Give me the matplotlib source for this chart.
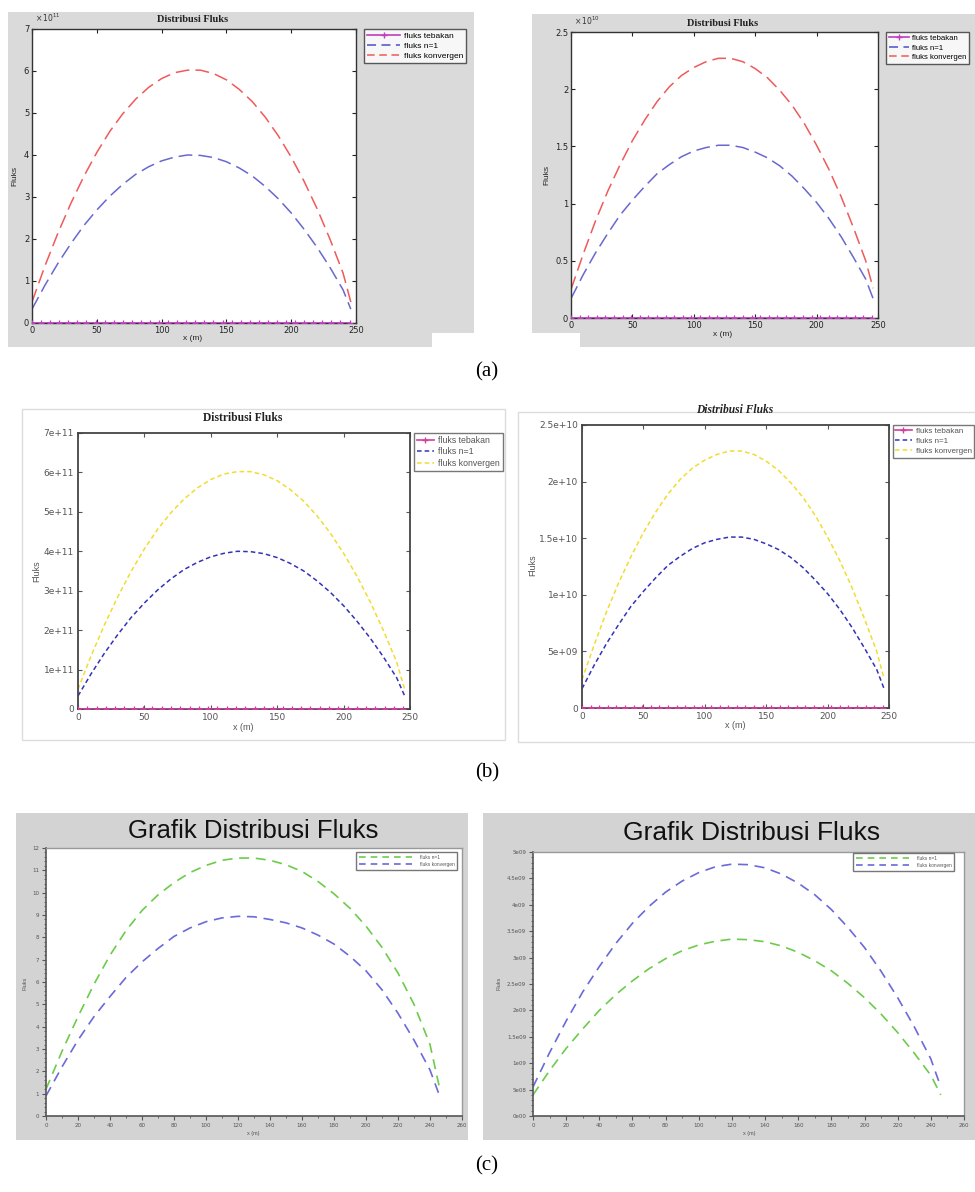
import matplotlib
matplotlib.use('Agg')
import matplotlib.pyplot as plt
from matplotlib.patches import Rectangle
from matplotlib.lines import Line2D
from matplotlib.ticker import MultipleLocator

# ---------------- data ----------------
X = [0, 10, 20, 30, 40, 50, 60, 70, 80, 90, 100, 110, 120, 130, 140, 150,
     160, 170, 180, 190, 200, 210, 220, 230, 240, 246]
X_TEB = [0, 7, 14, 21, 28, 35, 42, 49, 56, 63, 70, 77, 84, 91, 98, 105, 112,
         119, 126, 133, 140, 147, 154, 161, 168, 175, 182, 189, 196, 203, 210,
         217, 224, 231, 238, 245]
TEB = [0.0, 0.0, 0.0, 0.0, 0.0, 0.0, 0.0, 0.0, 0.0, 0.0, 0.0, 0.0, 0.0, 0.0,
       0.0, 0.0, 0.0, 0.0, 0.0, 0.0, 0.0, 0.0, 0.0, 0.0, 0.0, 0.0, 0.0, 0.0,
       0.0, 0.0, 0.0, 0.0, 0.0, 0.0, 0.0, 0.0]

# case 1 (x 1e11)
C1_N1 = [0.33, 0.90, 1.42, 1.89, 2.32, 2.69, 3.02, 3.30, 3.54, 3.72, 3.86, 3.95,
         4.00, 3.99, 3.94, 3.84, 3.69, 3.50, 3.25, 2.96, 2.62, 2.23, 1.80, 1.32,
         0.79, 0.33]
C1_KON = [0.50, 1.36, 2.14, 2.85, 3.49, 4.06, 4.56, 4.98, 5.33, 5.61, 5.82, 5.96,
          6.02, 6.02, 5.94, 5.79, 5.56, 5.27, 4.90, 4.46, 3.95, 3.37, 2.72, 1.99,
          1.19, 0.50]
# case 2 (x 1e10)
C2_N1 = [0.17, 0.38, 0.57, 0.74, 0.90, 1.03, 1.15, 1.26, 1.34, 1.41, 1.46, 1.49,
         1.51, 1.51, 1.49, 1.45, 1.40, 1.33, 1.24, 1.13, 1.01, 0.87, 0.71, 0.53,
         0.34, 0.17]
C2_KON = [0.25, 0.56, 0.85, 1.11, 1.34, 1.55, 1.73, 1.89, 2.02, 2.12, 2.19, 2.24,
          2.27, 2.27, 2.24, 2.18, 2.10, 1.99, 1.86, 1.70, 1.51, 1.30, 1.06, 0.79,
          0.50, 0.26]
# panel (c)
C3_N1 = [1.20, 2.90, 4.45, 5.90, 7.20, 8.30, 9.20, 9.90, 10.45, 10.90, 11.22,
         11.45, 11.55, 11.55, 11.45, 11.25, 10.95, 10.50, 9.95, 9.30, 8.50,
         7.55, 6.40, 5.00, 3.20, 1.25]
C3_KON = [0.90, 2.20, 3.40, 4.45, 5.35, 6.20, 6.90, 7.50, 8.04, 8.42, 8.70, 8.87,
          8.94, 8.92, 8.80, 8.65, 8.42, 8.10, 7.70, 7.15, 6.50, 5.65, 4.60, 3.40,
          2.06, 0.90]
C4_N1 = [0.40, 0.86, 1.28, 1.65, 2.00, 2.30, 2.56, 2.79, 2.98, 3.13, 3.24, 3.31,
         3.35, 3.34, 3.30, 3.22, 3.10, 2.94, 2.75, 2.51, 2.24, 1.93, 1.58, 1.19,
         0.77, 0.40]
C4_KON = [0.55, 1.20, 1.80, 2.35, 2.83, 3.27, 3.65, 3.97, 4.24, 4.45, 4.61, 4.72,
          4.77, 4.76, 4.70, 4.58, 4.41, 4.19, 3.91, 3.57, 3.19, 2.74, 2.24, 1.69,
          1.08, 0.55]

YT_A1 = [0, 1, 2, 3, 4, 5, 6, 7]
YT_A2 = [0, 0.5, 1, 1.5, 2, 2.5]
YL_A2 = ['0', '0.5', '1', '1.5', '2', '2.5']
YL_B1 = ['0', '1e+11', '2e+11', '3e+11', '4e+11', '5e+11', '6e+11', '7e+11']
YL_B2 = ['0', '5e+09', '1e+10', '1.5e+10', '2e+10', '2.5e+10']
XT_AB = [0, 50, 100, 150, 200, 250]
YT_C1 = [0, 1, 2, 3, 4, 5, 6, 7, 8, 9, 10, 11, 12]
YT_C2 = [0, 0.5, 1, 1.5, 2, 2.5, 3, 3.5, 4, 4.5, 5]
YL_C2 = ['0e00', '5e08', '1e09', '1.5e09', '2e09', '2.5e09', '3e09', '3.5e09',
         '4e09', '4.5e09', '5e09']
XT_C = [0, 20, 40, 60, 80, 100, 120, 140, 160, 180, 200, 220, 240, 260]

LEG_AB = ['fluks tebakan', 'fluks n=1', 'fluks konvergen']
LEG_C = ['fluks n=1', 'fluks konvergen']

# ---------------- figure ----------------
W, H = 975, 1192
fig = plt.figure(figsize=(W / 100, H / 100), dpi=100)
fig.patch.set_facecolor('white')


def rect(l, t, r, b):
    return [l / W, 1 - b / H, (r - l) / W, (b - t) / H]


def bg(l, t, r, b, fc, ec='none', lw=0.0):
    fig.patches.append(Rectangle((l / W, 1 - b / H), (r - l) / W, (b - t) / H,
                                 transform=fig.transFigure, facecolor=fc,
                                 edgecolor=ec, linewidth=lw, zorder=-10))


def ftext(px, py, s, **kw):
    fig.text(px / W, 1 - py / H, s, **kw)


GRAY_A = '#dadada'
GRAY_C = '#d3d3d3'
SANS = 'Liberation Sans'
SERIF = 'Liberation Serif'

# backgrounds
bg(8, 12, 474, 333, GRAY_A)
bg(8, 333, 432, 347, GRAY_A)
bg(532, 14, 975, 333, GRAY_A)
bg(580, 333, 975, 347, GRAY_A)
bg(22, 409, 505, 740, 'white', ec='#dcdcdc', lw=1.0)
bg(518, 412, 985, 742, 'white', ec='#dcdcdc', lw=1.0)
bg(16, 813, 468, 1140, GRAY_C)
bg(483, 813, 975, 1140, GRAY_C)


# ---------------- panel (a) : MATLAB style ----------------
def matlab_axes(r, ylim, yt, ylabels, mult, n1, kon, title, title_xy,
                xlab_xy, ylab_xy, leg_xy, hlen, lsize):
    ax = fig.add_axes(rect(*r))
    ax.plot(X_TEB, TEB, color='#c03cc0', lw=1.2, marker='+', ms=4.5, mew=0.9,
            zorder=5)
    ax.plot(X, n1, color='#6868d0', lw=1.1, dashes=(9, 4))
    ax.plot(X, kon, color='#f05a5a', lw=1.1, dashes=(9, 4))
    ax.set_xlim(0, 250)
    ax.set_ylim(*ylim)
    ax.set_xticks(XT_AB)
    ax.set_yticks(yt)
    if ylabels is not None:
        ax.set_yticklabels(ylabels)
    ax.tick_params(direction='in', length=3, width=0.8, top=True, right=True,
                   labelsize=6, pad=2, colors='#222222')
    for s in ax.spines.values():
        s.set_color('#333333')
        s.set_linewidth(1.0)
    ftext(r[0] + 3, r[1] - 5, mult, fontsize=5.5, family=SANS, color='#333333',
          ha='left', va='bottom')
    ftext(*title_xy, title, fontsize=7.5, family=SERIF, weight='bold',
          ha='center', va='center', color='#222222')
    ftext(*xlab_xy, 'x (m)', fontsize=6, family=SANS, ha='center', va='center',
          color='#222222')
    ftext(*ylab_xy, 'Fluks', fontsize=6, family=SANS, ha='center', va='center',
          rotation=90, color='#222222')
    handles = [Line2D([], [], color='#c03cc0', lw=1.2, marker='+', ms=4.5),
               Line2D([], [], color='#6868d0', lw=1.3, dashes=(5, 3)),
               Line2D([], [], color='#f05a5a', lw=1.1, dashes=(5, 3))]
    leg = ax.legend(handles, LEG_AB, loc='upper left',
                    bbox_to_anchor=(leg_xy[0] / W, 1 - leg_xy[1] / H),
                    bbox_transform=fig.transFigure, borderaxespad=0,
                    frameon=True, fancybox=False, handlelength=hlen,
                    handletextpad=0.4, labelspacing=0.25, borderpad=0.35,
                    prop={'family': SANS, 'size': lsize})
    leg.get_frame().set_edgecolor('#333333')
    leg.get_frame().set_linewidth(1.0)
    return ax


matlab_axes((32, 29, 356, 323), (0, 7), YT_A1, None, r'$\times\,10^{11}$',
            C1_N1, C1_KON, 'Distribusi Fluks', (193, 20), (193, 339), (15, 176),
            (364, 29), 4.0, 6)
matlab_axes((571, 32, 878, 318), (0, 2.5), YT_A2, YL_A2, r'$\times\,10^{10}$',
            C2_N1, C2_KON, 'Distribusi Fluks', (723, 23), (723, 334), (547, 175),
            (886, 32), 2.6, 5.6)


# ---------------- panel (b) : Scilab style ----------------
def scilab_axes(r, ylim, yt, ylabels, n1, kon, title, title_xy, italic,
                xlab_xy, ylab_xy, leg_xy, legsize):
    ax = fig.add_axes(rect(*r))
    ax.plot(X_TEB, TEB, color='#d43c9c', lw=1.2, marker='+', ms=4.5, mew=0.9,
            zorder=5)
    ax.plot(X, n1, color='#3333b8', lw=1.1, dashes=(3, 2))
    ax.plot(X, kon, color='#f2dc30', lw=1.1, dashes=(3, 2))
    ax.set_xlim(0, 250)
    ax.set_ylim(*ylim)
    ax.set_xticks(XT_AB)
    ax.set_yticks(yt)
    ax.set_yticklabels(ylabels)
    ax.tick_params(direction='in', length=3, width=0.8, top=True, right=True,
                   labelsize=6.5, pad=3, colors='#555555')
    for s in ax.spines.values():
        s.set_color('#444444')
        s.set_linewidth(1.3)
    ftext(*title_xy, title, fontsize=8.3, family=SERIF, weight='bold',
          style='italic' if italic else 'normal', ha='center', va='center',
          color='#222222')
    ftext(*xlab_xy, 'x (m)', fontsize=6.5, family=SANS, ha='center',
          va='center', color='#555555')
    ftext(*ylab_xy, 'Fluks', fontsize=6.5, family=SANS, ha='center',
          va='center', rotation=90, color='#555555')
    handles = [Line2D([], [], color='#d43c9c', lw=1.2, marker='+', ms=5),
               Line2D([], [], color='#3333b8', lw=1.1, dashes=(3, 2)),
               Line2D([], [], color='#f2dc30', lw=1.1, dashes=(3, 2))]
    leg = ax.legend(handles, LEG_AB, loc='upper left',
                    bbox_to_anchor=(leg_xy[0] / W, 1 - leg_xy[1] / H),
                    bbox_transform=fig.transFigure, borderaxespad=0,
                    frameon=True, fancybox=False, handlelength=2.0,
                    handletextpad=0.5, labelspacing=0.3, borderpad=0.3,
                    prop={'family': SANS, 'size': legsize})
    leg.get_frame().set_edgecolor('#555555')
    leg.get_frame().set_linewidth(1.0)
    for t in leg.get_texts():
        t.set_color('#555555')
    return ax


scilab_axes((78, 433, 410, 709), (0, 7), YT_A1, YL_B1, C1_N1, C1_KON,
            'Distribusi Fluks', (243, 418), False, (243, 727), (37, 571),
            (414, 433), 6.3)
scilab_axes((582, 425, 889, 708), (0, 2.5), YT_A2, YL_B2, C2_N1, C2_KON,
            'Distribusi Fluks', (735, 410), True, (735, 726), (533, 565),
            (893, 425), 5.8)


# ---------------- panel (c) ----------------
def grafik_axes(r, ylim, yt, ylabels, n1, kon, title_xy, tsize, xlab_xy,
                ylab_xy, leg_xy, ymin_step):
    ax = fig.add_axes(rect(*r))
    ax.plot(X, n1, color='#6ccc4a', lw=1.2, dashes=(6, 4))
    ax.plot(X, kon, color='#6a6ad8', lw=1.2, dashes=(6, 4))
    ax.set_xlim(0, 260)
    ax.set_ylim(*ylim)
    ax.set_xticks(XT_C)
    ax.set_yticks(yt)
    if ylabels is not None:
        ax.set_yticklabels(ylabels)
    ax.xaxis.set_minor_locator(MultipleLocator(10))
    ax.yaxis.set_minor_locator(MultipleLocator(ymin_step))
    ax.tick_params(which='major', direction='out', length=3, width=0.8,
                   labelsize=4, pad=2, colors='#555555')
    ax.tick_params(which='minor', direction='out', length=1.5, width=0.6,
                   colors='#555555')
    for k in ('left', 'bottom'):
        ax.spines[k].set_color('#555555')
        ax.spines[k].set_linewidth(1.2)
    for k in ('top', 'right'):
        ax.spines[k].set_color('#999999')
        ax.spines[k].set_linewidth(1.0)
    ftext(*title_xy, 'Grafik Distribusi Fluks', fontsize=tsize, family=SANS,
          ha='center', va='center', color='#111111')
    ftext(*xlab_xy, 'x (m)', fontsize=4, family=SANS, ha='center',
          va='center', color='#555555')
    ftext(*ylab_xy, 'Fluks', fontsize=4, family=SANS, ha='center',
          va='center', rotation=90, color='#555555')
    handles = [Line2D([], [], color='#6ccc4a', lw=1.2, dashes=(4, 3)),
               Line2D([], [], color='#6a6ad8', lw=1.2, dashes=(4, 3))]
    leg = ax.legend(handles, LEG_C, loc='upper left',
                    bbox_to_anchor=(leg_xy[0] / W, 1 - leg_xy[1] / H),
                    bbox_transform=fig.transFigure, borderaxespad=0,
                    frameon=True, fancybox=False, handlelength=11,
                    handletextpad=1.5, labelspacing=0.4, borderpad=0.6,
                    prop={'family': SANS, 'size': 3.5})
    leg.get_frame().set_edgecolor('#555555')
    leg.get_frame().set_linewidth(1.0)
    for t in leg.get_texts():
        t.set_color('#555555')
    return ax


grafik_axes((46, 848, 462, 1116), (0, 12), YT_C1, None, C3_N1, C3_KON,
            (253, 831), 18.5, (253, 1133), (25, 983), (356, 852), 0.2)
grafik_axes((533, 852, 964, 1116), (0, 5), YT_C2, YL_C2, C4_N1, C4_KON,
            (752, 833), 19, (749, 1133), (499, 983), (853, 853), 0.1)

# ---------------- sub-figure labels ----------------
ftext(487, 372, '(a)', fontsize=15, family=SERIF, ha='center', va='center')
ftext(487, 773, '(b)', fontsize=15, family=SERIF, ha='center', va='center')
ftext(487, 1166, '(c)', fontsize=15, family=SERIF, ha='center', va='center')

fig.savefig('out.png', dpi=100, facecolor='white')
